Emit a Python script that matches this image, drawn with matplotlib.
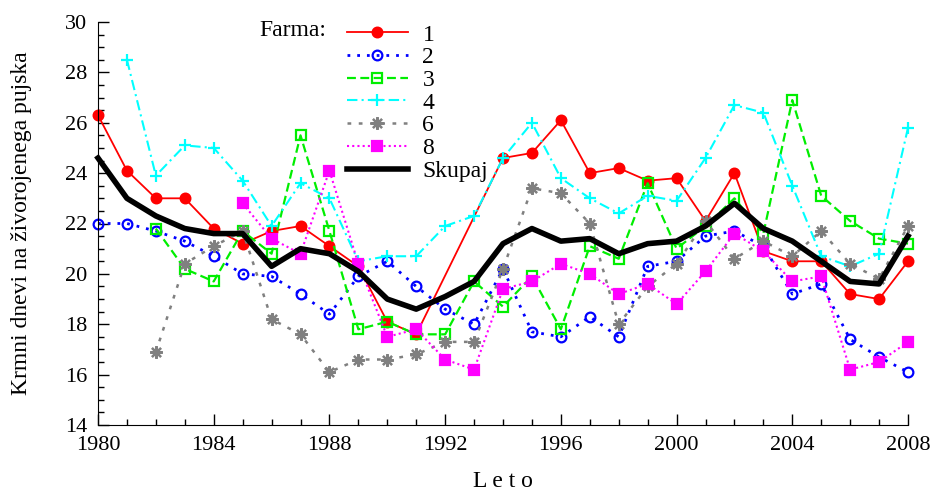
import numpy as np
import matplotlib
matplotlib.use('Agg')
import matplotlib.pyplot as plt
from matplotlib.ticker import MultipleLocator

nan = np.nan

# data, one value per year 1980-2008 (nan = no value)
years = list(range(1980, 2009))
farm1 = [26.3, 24.1, 23.0, 23.0, 21.8, 21.2, 21.7, 21.9, 21.1, 20.3, 18.1, 17.6, nan, nan,
         24.6, 24.8, 26.1, 24.0, 24.2, 23.7, 23.8, 22.1, 24.0, 20.9, 20.5, 20.5, 19.2, 19.0, 20.5]
farm2 = [22.0, 22.0, 21.7, 21.3, 20.7, 20.0, 19.9, 19.2, 18.4, 19.9, 20.5, 19.5, 18.6, 18.0,
         20.2, 17.7, 17.5, 18.3, 17.5, 20.3, 20.5, 21.5, 21.7, 21.1, 19.2, 19.6, 17.4, 16.7, 16.1]
farm3 = [nan, nan, 21.8, 20.2, 19.7, 21.7, 20.8, 25.5, 21.7, 17.8, 18.1, 17.6, 17.6, 19.7,
         18.7, 19.9, 17.8, 21.1, 20.6, 23.6, 21.0, 21.9, 23.0, 21.6, 26.9, 23.1, 22.1, 21.4, 21.2]
farm4 = [nan, 28.5, 23.9, 25.1, 25.0, 23.7, 21.9, 23.6, 23.0, 20.5, 20.7, 20.7, 21.9, 22.3,
         24.6, 26.0, 23.8, 23.0, 22.4, 23.1, 22.9, 24.6, 26.7, 26.4, 23.5, 20.7, 20.3, 20.8, 25.8]
farm6 = [nan, nan, 16.9, 20.4, 21.1, 21.7, 18.2, 17.6, 16.1, 16.6, 16.6, 16.8, 17.3, 17.3,
         20.2, 23.4, 23.2, 22.0, 18.0, 19.5, 20.4, 22.1, 20.6, 21.3, 20.7, 21.7, 20.4, 19.8, 21.9]
farm8 = [nan, nan, nan, nan, nan, 22.8, 21.4, 20.8, 24.1, 20.4, 17.5, 17.8, 16.6, 16.2,
         19.4, 19.7, 20.4, 20.0, 19.2, 19.6, 18.8, 20.1, 21.6, 20.9, 19.7, 19.9, 16.2, 16.5, 17.3]
skupaj = [24.6, 23.0, 22.3, 21.8, 21.6, 21.6, 20.3, 21.0, 20.8, 20.1, 19.0, 18.6, 19.1, 19.7,
          21.2, 21.8, 21.3, 21.4, 20.8, 21.2, 21.3, 21.9, 22.8, 21.8, 21.3, 20.5, 19.7, 19.6, 21.5]

labels = ['1', '2', '3', '4', '6', '8', 'Skupaj']

plt.rcParams['font.family'] = ['Liberation Serif', 'DejaVu Serif']
plt.rcParams['font.size'] = 17

fig = plt.figure(figsize=(9.33, 4.93), dpi=100)
ax = fig.add_axes([98 / 933, 1 - 425 / 493, 810 / 933, 403 / 493])

# style per series: colour, line style, marker, marker size, filled, line width
styles = [
    ('#ff0000', '-', 'o', 7, True, 1.3),
    ('#0000ff', (0, (1, 2.5)), 'o', 7, False, 2.0),
    ('#00ee00', (0, (4, 2)), 's', 7, False, 1.6),
    ('#00ffff', (0, (5, 2, 1, 2)), '+', 9, False, 1.5),
    ('#808080', (0, (1.5, 3)), (8, 2, 0), 9, False, 1.8),
    ('#ff00ff', (0, (1, 1.5)), 's', 7, True, 1.5),
]

series = [farm1, farm2, farm3, farm4, farm6, farm8]
yr = np.array(years)
for vals, lab, (c, ls, mk, ms, filled, lw) in zip(series, labels, styles):
    v = np.array(vals, dtype=float)
    ok = ~np.isnan(v)
    ax.plot(yr[ok], v[ok], color=c, linestyle=ls, linewidth=lw, marker=mk, markersize=ms,
            markerfacecolor=c if filled else 'none', markeredgecolor=c, markeredgewidth=1.6,
            label=lab, clip_on=False)

ax.plot(years, skupaj, color='black', linewidth=4, label='Skupaj', clip_on=False)

# axes
ax.set_xlim(1980, 2008)
ax.set_ylim(14, 30)
ax.xaxis.set_major_locator(MultipleLocator(4))
ax.xaxis.set_minor_locator(MultipleLocator(1))
ax.yaxis.set_major_locator(MultipleLocator(2))
ax.yaxis.set_minor_locator(MultipleLocator(0.5))
ax.tick_params(which='both', direction='in', width=1, labelsize=16)
ax.tick_params(which='major', length=8)
ax.tick_params(which='minor', length=4)
ax.tick_params(axis='y', pad=8)
ax.tick_params(axis='x', pad=8)
ax.spines['top'].set_visible(False)
ax.spines['right'].set_visible(False)

ax.set_ylabel('Krmni dnevi na živorojenega pujska')
ax.yaxis.label.set_va('center')
ax.yaxis.set_label_coords(-0.094, 0.5)
ax.set_xlabel('L e t o')
ax.xaxis.label.set_va('center')
ax.xaxis.set_label_coords(0.5, -0.141)

# legend with "Farma:" title on the left
leg = ax.legend(loc='upper left', bbox_to_anchor=(0.307, 0.995), frameon=False, borderpad=0,
                borderaxespad=0, handlelength=2.58, handletextpad=0.63, labelspacing=0.05)
fig.text(326 / 933, 1 - 31 / 493, 'Farma:', ha='right', va='center', fontsize=17)

fig.savefig('out.png', dpi=100)
